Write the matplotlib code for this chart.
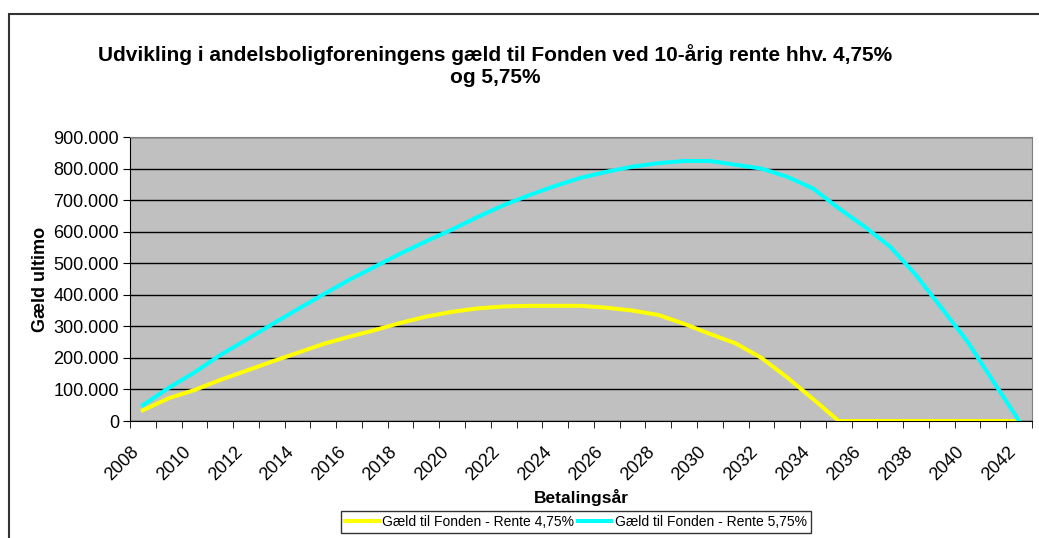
import matplotlib
matplotlib.use("Agg")
import matplotlib.pyplot as plt  # noqa: E402
from matplotlib.patches import Rectangle  # noqa: E402
from matplotlib.ticker import FuncFormatter, MultipleLocator  # noqa: E402
from matplotlib.transforms import ScaledTranslation  # noqa: E402
import numpy as np  # noqa: E402

plt.rcParams['font.family'] = ['Liberation Sans', 'DejaVu Sans']

aar = list(range(2008, 2043))
rente_475 = [34000, 72000, 98000, 130000, 159000, 188000, 216000, 244000,
             267000, 288000, 311000, 331000, 346000, 357000, 363000, 365000,
             365000, 365000, 359000, 350000, 336000, 308000, 276000, 246000,
             200000, 138000, 70000, 0, 0, 0, 0, 0, 0, 0, 0]
rente_575 = [50000, 105000, 154000, 209000, 257000, 306000, 354000, 401000,
             447000, 489000, 531000, 570000, 607000, 647000, 684000, 716000,
             745000, 771000, 790000, 806000, 817000, 824000, 824000, 812000,
             800000, 774000, 737000, 674000, 616000, 552000, 462000, 357000,
             251000, 125000, 0]
serie_navne = ["Gæld til Fonden - Rente 4,75%", "Gæld til Fonden - Rente 5,75%"]
titel = ("Udvikling i andelsboligforeningens gæld til Fonden ved 10-årig rente hhv. 4,75%\n"
         "og 5,75%")

W, H = 1039, 538
fig = plt.figure(figsize=(W / 100, H / 100), dpi=100)
ax = fig.add_axes([130 / W, 1 - 421 / H, (1032 - 130) / W, (421 - 137) / H])

# chart border (cut off at right and bottom in the original)
fig.patches.append(Rectangle((9 / W, -0.1), 1.2, 1 - 14 / H + 0.1,
                             transform=fig.transFigure, fill=False,
                             edgecolor="#333333", linewidth=1.5))

x = np.arange(len(aar))
ax.set_facecolor("#C0C0C0")
ax.plot(x, rente_475, color="#FFFF00", lw=2.9, label=serie_navne[0], zorder=3)
ax.plot(x, rente_575, color="#00FFFF", lw=2.9, label=serie_navne[1], zorder=3)

ax.set_xlim(-0.5, len(aar) - 0.5)
ax.set_ylim(0, 900000)
ax.yaxis.set_major_locator(MultipleLocator(100000))
ax.yaxis.set_major_formatter(FuncFormatter(lambda v, p: f"{int(v):,}".replace(",", ".")))
ax.grid(axis="y", color="black", lw=1)
ax.set_axisbelow(True)

ax.set_xticks(x[::2])
ax.set_xticklabels([str(a) for a in aar[::2]], rotation=45, ha="right",
                   rotation_mode="anchor")
ax.set_xticks(np.arange(-0.5, len(aar)), minor=True)
ax.tick_params(axis="x", which="major", length=0, pad=16, labelsize=13)
ax.tick_params(axis="x", which="minor", length=5, color="black")
ax.tick_params(axis="y", length=5, labelsize=13, pad=3)
flyt = ScaledTranslation(-0.12, 0, fig.dpi_scale_trans)
for lbl in ax.get_xticklabels():
    lbl.set_transform(lbl.get_transform() + flyt)

for s in ["top", "right"]:
    ax.spines[s].set_color("#808080")
for s in ["left", "bottom"]:
    ax.spines[s].set_color("black")

ax.set_ylabel("Gæld ultimo", fontsize=13, fontweight="bold", labelpad=3)
ax.set_xlabel("Betalingsår", fontsize=12.5, fontweight="bold", labelpad=4)

fig.text(495 / W, 1 - 65.5 / H, titel, ha="center", va="center", fontsize=15,
         fontweight="bold", linespacing=1.2)

leg = fig.legend(loc="upper center", bbox_to_anchor=(576 / W, 1 - 511 / H), ncol=2,
                 fontsize=10, frameon=True, fancybox=False, edgecolor="black",
                 handlelength=2.4, handletextpad=0.25, columnspacing=0.25,
                 borderpad=0.3, borderaxespad=0)
leg.get_frame().set_linewidth(1)

fig.savefig("out.png", dpi=100)
